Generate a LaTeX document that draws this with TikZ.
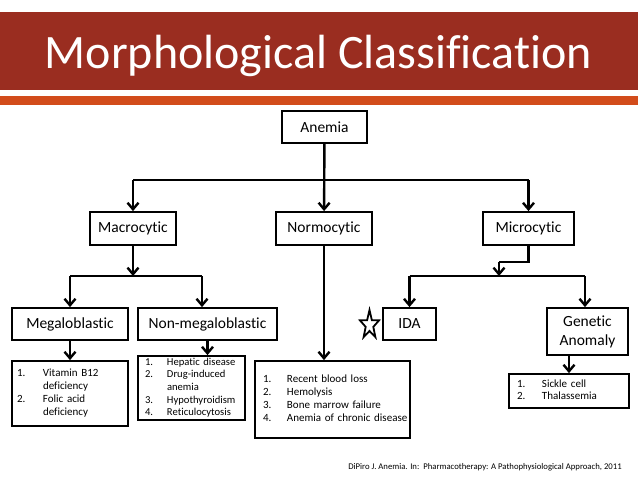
\documentclass[tikz,border=0pt]{standalone}
\usepackage{fontspec}
\setmainfont[Ligatures={NoCommon}]{Carlito}
\usetikzlibrary{arrows.meta}
\definecolor{barred}{HTML}{9A2D20}
\definecolor{barorange}{HTML}{D24C1B}
\begin{document}
\begin{tikzpicture}[x=1pt,y=-1pt,
  box/.style={draw, line width=1.8pt, inner sep=0pt, font=\fontsize{15.5}{19}\selectfont, align=center},
  lbox/.style={draw, line width=1.8pt, inner ysep=0pt, font=\fontsize{11}{12.7}\selectfont, align=left},
  conn/.style={line width=2.4pt},
  arr/.style={conn, -{Straight Barb[length=6.5pt,width=11pt]}},
]
\useasboundingbox (0,0) rectangle (638,479);
\fill[white] (0,0) rectangle (638,479);
% title bars
\fill[barred] (0,12) rectangle (638,90);
\fill[barorange] (0,96) rectangle (638,105);
\node[anchor=base, text=white, font=\fontsize{48}{48}\selectfont, inner sep=0pt] (title) at (318.5,68) {Morphological Classification};

% level nodes
\node[box, minimum width=85pt, minimum height=32pt] (anemia) at (324.5,127) {Anemia};
\node[box, minimum width=86pt, minimum height=33pt] (macro) at (133,228.5) {Macrocytic};
\node[box, minimum width=96pt, minimum height=33pt] (normo) at (324,228.5) {Normocytic};
\node[box, minimum width=91pt, minimum height=33pt] (micro) at (528.5,228.5) {Microcytic};
\node[box, minimum width=116pt, minimum height=32pt] (mega) at (70,324) {Megaloblastic};
\node[box, minimum width=139pt, minimum height=32pt] (nonmega) at (207.5,324) {Non-megaloblastic};
\node[box, minimum width=53pt, minimum height=32pt] (ida) at (409.5,324) {IDA};
\node[box, minimum width=81pt, minimum height=47pt] (genetic) at (587.5,331.5) {Genetic\\Anomaly};

% list boxes
\node[lbox, inner xsep=5pt, text width=106pt, minimum height=65pt] (megalist) at (70,393.5)
  {\begin{tabular}{@{}p{26pt}@{}l@{}}1.&Vitamin B12\\&deficiency\\2.&Folic acid\\&deficiency\end{tabular}};
\node[lbox, inner xsep=7pt, text width=93pt, minimum height=64pt, font=\fontsize{10.6}{12.6}\selectfont] (nonmegalist) at (191.5,388)
  {\begin{tabular}{@{}p{22pt}@{}l@{}}1.&Hepatic disease\\2.&Drug-induced\\&anemia\\3.&Hypothyroidism\\4.&Reticulocytosis\end{tabular}};
\node[lbox, inner xsep=8pt, text width=139pt, minimum height=77pt] (normolist) at (332.5,399.5)
  {\begin{tabular}{@{}p{24pt}@{}l@{}}1.&Recent blood loss\\2.&Hemolysis\\3.&Bone marrow failure\\4.&Anemia of chronic disease\end{tabular}};
\node[lbox, inner xsep=8pt, text width=104pt, minimum height=34pt] (genlist) at (569,391)
  {\begin{tabular}{@{}p{25pt}@{}l@{}}1.&Sickle cell\\2.&Thalassemia\end{tabular}};

% star
\draw[line width=1.8pt, fill=white, line join=miter, shift={(369.5,325)}, xscale=0.67]
  (270:15) -- (306:6) -- (342:15) -- (18:6) -- (54:15) -- (90:6) -- (126:15) -- (162:6) -- (198:15) -- (234:6) -- cycle;

% citation
\node[font=\fontsize{8.7}{10}\selectfont, anchor=base, inner sep=0pt] (cite) at (485,469)
  {DiPiro J. Anemia. In:\ \ Pharmacotherapy: A Pathophysiological Approach, 2011};

% junction coordinates
\path (0,180) coordinate (ya) (0,276) coordinate (yb) (0,262) coordinate (yc);
\coordinate (nmj) at (202,276);
\coordinate (mj) at (499,262);
\coordinate (gj) at (585,276);

% connectors
\draw[conn] (macro.north |- ya) -- (micro.north |- ya);
\draw[arr] (anemia) -- (normo);
\draw[arr] (macro.north |- ya) -- (macro);
\draw[arr] (micro.north |- ya) -- (micro);

\draw[arr] (macro) -- (macro.south |- yb);
\draw[conn] (mega.north |- yb) -- (nmj);
\draw[arr] (mega.north |- yb) -- (mega);
\draw[arr] (nmj) -- (nmj |- nonmega.north);

\draw[arr] (mega) -- (megalist);
\draw[arr] (nonmega) -- (nonmega.south |- nonmegalist.north);
\draw[arr] (normo) -- (normo.south |- normolist.north);

\draw[conn] (micro) -- (micro.south |- yc) -- (mj);
\draw[arr] (mj) -- (mj |- yb);
\draw[conn] (ida.north |- yb) -- (gj);
\draw[arr] (ida.north |- yb) -- (ida);
\draw[arr] (gj) -- (gj |- genetic.north);
\draw[arr] (genlist.north |- genetic.south) -- (genlist);
\end{tikzpicture}
\end{document}
